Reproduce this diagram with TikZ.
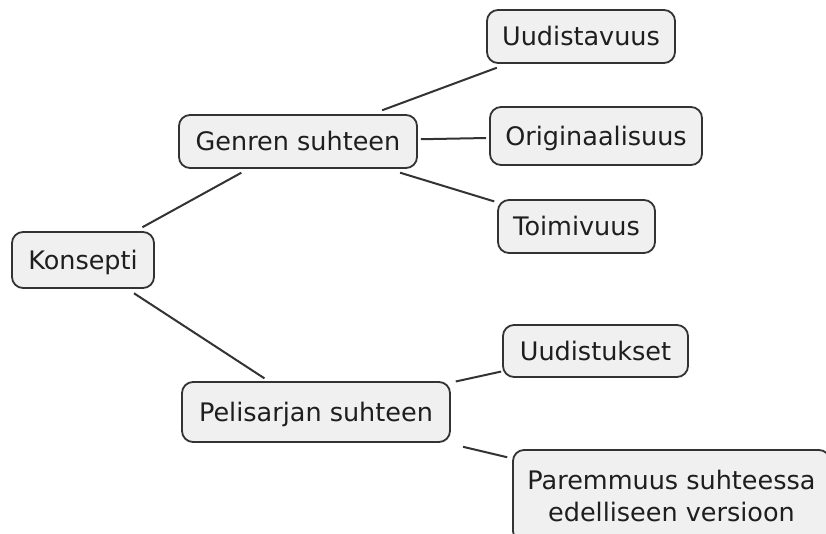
\documentclass[tikz,border=0pt]{standalone}
\usepackage{fontspec}
\setmainfont{DejaVu Sans}
\definecolor{boxfill}{HTML}{F0F0F0}
\definecolor{boxline}{HTML}{333333}
\definecolor{linkcol}{HTML}{333333}
\definecolor{textcol}{HTML}{1E1E1E}
\begin{document}
\begin{tikzpicture}[x=1pt,y=-1pt,
  topic/.style={draw=boxline, fill=boxfill, line width=1.8pt,
    rounded corners=11pt, inner sep=0pt, text=textcol,
    font=\fontsize{25.5}{32}\selectfont, align=center},
  oneline/.style={text height=18.5pt, text depth=0pt},
  link/.style={draw=linkcol, line width=2pt}]
\useasboundingbox (0,0) rectangle (826,534);
\clip (0,0) rectangle (826,534);
\fill[white] (0,0) rectangle (826,534);

% concept map nodes
\node[topic, oneline, minimum width=142pt, minimum height=56pt] (konsepti) at (83,260) {Konsepti};
\node[topic, oneline, minimum width=238pt, minimum height=53pt] (genre) at (298,141.5) {Genren suhteen};
\node[topic, oneline, minimum width=268pt, minimum height=60pt] (sarja) at (316,412) {Pelisarjan suhteen};
\node[topic, oneline, minimum width=188pt, minimum height=53pt] (uudistavuus) at (581,36.5) {Uudistavuus};
\node[topic, oneline, minimum width=212pt, minimum height=58pt] (originaali) at (596,136) {Originaalisuus};
\node[topic, oneline, minimum width=157pt, minimum height=53pt] (toimivuus) at (576.5,226.5) {Toimivuus};
\node[topic, oneline, minimum width=185pt, minimum height=52pt] (uudistukset) at (595.5,351) {Uudistukset};
\node[topic, minimum width=317pt, minimum height=92pt] (paremmuus) at (671.5,496) {Paremmuus suhteessa\\edelliseen versioon};

% connectors, each stopping short of the boxes
\draw[link, shorten <=8pt, shorten >=8pt] (konsepti) -- (genre);
\draw[link, shorten <=8pt, shorten >=5pt] (konsepti) -- (sarja);
\draw[link, shorten <=11pt, shorten >=11pt] (genre) -- (uudistavuus);
\draw[link, shorten <=3pt, shorten >=3pt] (genre) -- (originaali);
\draw[link, shorten <=13pt, shorten >=3pt] (genre) -- (toimivuus);
\draw[link, shorten <=5pt, shorten >=1pt] (sarja) -- (uudistukset);
\draw[link, shorten <=17pt, shorten >=5pt] (sarja) -- (paremmuus);
\end{tikzpicture}
\end{document}
